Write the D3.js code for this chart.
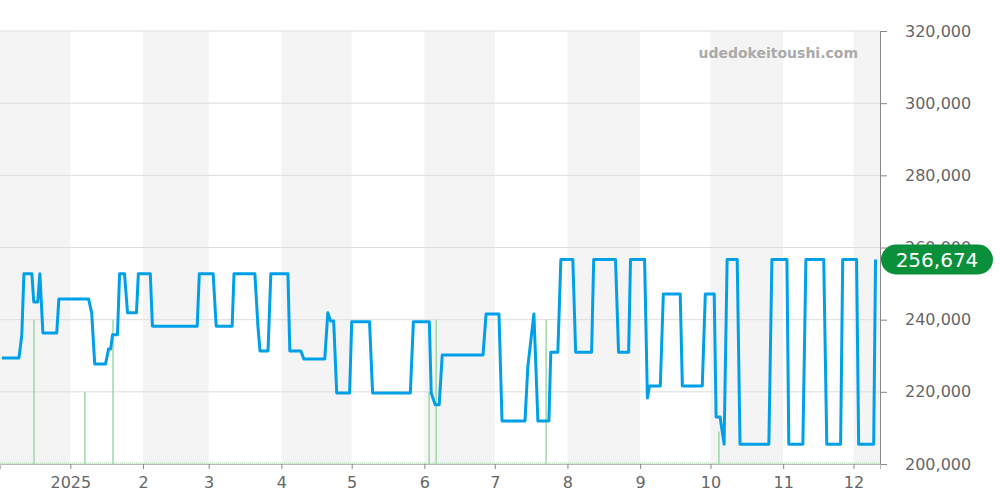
<!DOCTYPE html>
<html><head><meta charset="utf-8">
<script src="https://cdn.jsdelivr.net/npm/d3@7"></script>
<style>body{margin:0;background:#fff}svg{font-family:"DejaVu Sans",sans-serif}</style>
</head><body><svg id="c" width="1000" height="500"></svg>
<script>
const startDate = new Date(2024, 11, 2);
const endDays = 375.3;
const priceDays = [0.8,8.1,9.3,10.2,13.6,14.4,16.1,17.0,18.3,24.2,25.1,37.8,39.1,40.4,45.0,46.3,47.2,48.0,50.1,51.0,53.1,54.4,58.2,59.0,64.1,65.0,84.1,85.0,90.9,92.2,99.0,99.8,108.7,110.0,110.9,114.3,115.5,122.8,123.6,128.3,129.6,138.5,139.8,141.0,142.3,143.6,149.1,150.0,157.6,158.9,175.0,176.3,183.1,183.9,185.6,187.3,188.6,206.0,207.3,212.8,214.1,223.9,225.1,227.7,229.4,234.1,234.9,237.9,239.2,244.3,245.5,252.3,253.2,262.5,263.8,268.1,268.9,274.9,276.1,277.0,281.6,282.9,290.1,291.0,299.5,300.8,304.6,305.4,307.1,308.8,310.1,314.4,315.6,327.9,329.2,335.6,336.4,342.4,343.7,351.3,352.6,358.5,359.4,365.3,366.2,372.6,373.4];
const priceValues = [229400,229400,235800,252700,252700,244900,244900,252700,236300,236300,245700,245700,241900,227700,227700,231900,231900,235800,235800,252700,252700,241900,241900,252700,252700,238200,238200,252700,252700,238200,238200,252700,252700,238200,231300,231300,252700,252700,231300,231300,229100,229100,241900,239600,239600,219700,219700,239400,239400,219700,219700,239400,239400,219700,216400,216400,230200,230200,241600,241600,211900,211900,226900,241600,211900,211900,231000,231000,256674,256674,231000,231000,256674,256674,231000,231000,256674,256674,218300,221600,221600,247100,247100,221600,221600,247100,247100,213000,213000,205500,256674,256674,205500,205500,256674,256674,205500,205500,256674,256674,205500,205500,256674,256674,205500,205500,256674];
const volumeDays = [14.5,36.2,48.2,183.0,186.0,232.9,306.6];
const volumeTops = [240000,220000,240000,220000,240000,240000,209000];
const yTicks = [200000,220000,240000,260000,280000,300000,320000];
const monthLabels = ["2025","2","3","4","5","6","7","8","9","10","11","12"];
const lastPrice = 256674;

const svg = d3.select("#c");
const dayMs = 86400000;
const toDate = d => new Date(startDate.getTime() + d*dayMs);
const x = d3.scaleTime().domain([startDate, toDate(endDays)]).range([0, 880]);
const y = d3.scaleLinear().domain([200000, 320000]).range([464, 31]);

// month bands
const months = d3.timeMonth.range(new Date(2024,11,1), new Date(2026,0,1));
months.forEach((m,i) => {
  if (i % 2 === 0) {
    const x0 = Math.max(0, x(m)), x1 = Math.min(880, x(d3.timeMonth.offset(m,1)));
    svg.append("rect").attr("x",x0).attr("y",31).attr("width",x1-x0).attr("height",433).attr("fill","#f4f4f4");
  }
});
// grid
yTicks.forEach(t => svg.append("line").attr("x1",0).attr("x2",880).attr("y1",y(t)).attr("y2",y(t)).attr("stroke","#dddddd"));
// watermark
svg.append("text").attr("x",858).attr("y",58).attr("text-anchor","end").attr("font-size",14).attr("font-weight","bold").attr("fill","#aaaaaa").text("udedokeitoushi.com");
// volume
svg.selectAll(".v").data(volumeDays).join("line").attr("x1",d=>x(toDate(d))).attr("x2",d=>x(toDate(d)))
  .attr("y1",y(200000)).attr("y2",(d,i)=>y(volumeTops[i])).attr("stroke","#8fd39a").attr("stroke-width",1.3);
svg.append("line").attr("x1",0).attr("x2",880).attr("y1",463).attr("y2",463).attr("stroke","#a8dcae").attr("stroke-dasharray","1,1");
// axes
const yAxis = d3.axisRight(y).tickValues(yTicks).tickSize(7).tickPadding(18).tickFormat(d3.format(","));
const gy = svg.append("g").attr("transform","translate(880,0)").call(yAxis);
gy.select(".domain").attr("stroke","#888");
gy.selectAll("line").attr("stroke","#888");
gy.selectAll("text").attr("font-size",16).attr("fill","#666").attr("font-family","DejaVu Sans");
const mt = months.slice(1,13);
const xAxis = d3.axisBottom(x).tickValues(mt).tickSize(5).tickPadding(8).tickFormat((d,i)=>monthLabels[i]);
const gx = svg.append("g").attr("transform","translate(0,464)").call(xAxis);
gx.select(".domain").attr("stroke","#bbb");
gx.selectAll("line").attr("stroke","#888");
gx.selectAll("text").attr("font-size",16).attr("fill","#666").attr("font-family","DejaVu Sans");
// price line
const line = d3.line().x((d,i)=>x(toDate(priceDays[i]))).y((d)=>y(d));
svg.append("path").datum(priceValues).attr("d",line).attr("fill","none").attr("stroke","#00a0e9").attr("stroke-width",3).attr("stroke-linejoin","round");
// badge
const by = y(lastPrice);
svg.append("rect").attr("x",881).attr("y",by-15).attr("width",112).attr("height",30).attr("rx",15).attr("fill","#0a8f3a");
svg.append("text").attr("x",937).attr("y",by+7).attr("text-anchor","middle").attr("font-size",20).attr("fill","#fff").text(d3.format(",")(lastPrice));
</script></body></html>
